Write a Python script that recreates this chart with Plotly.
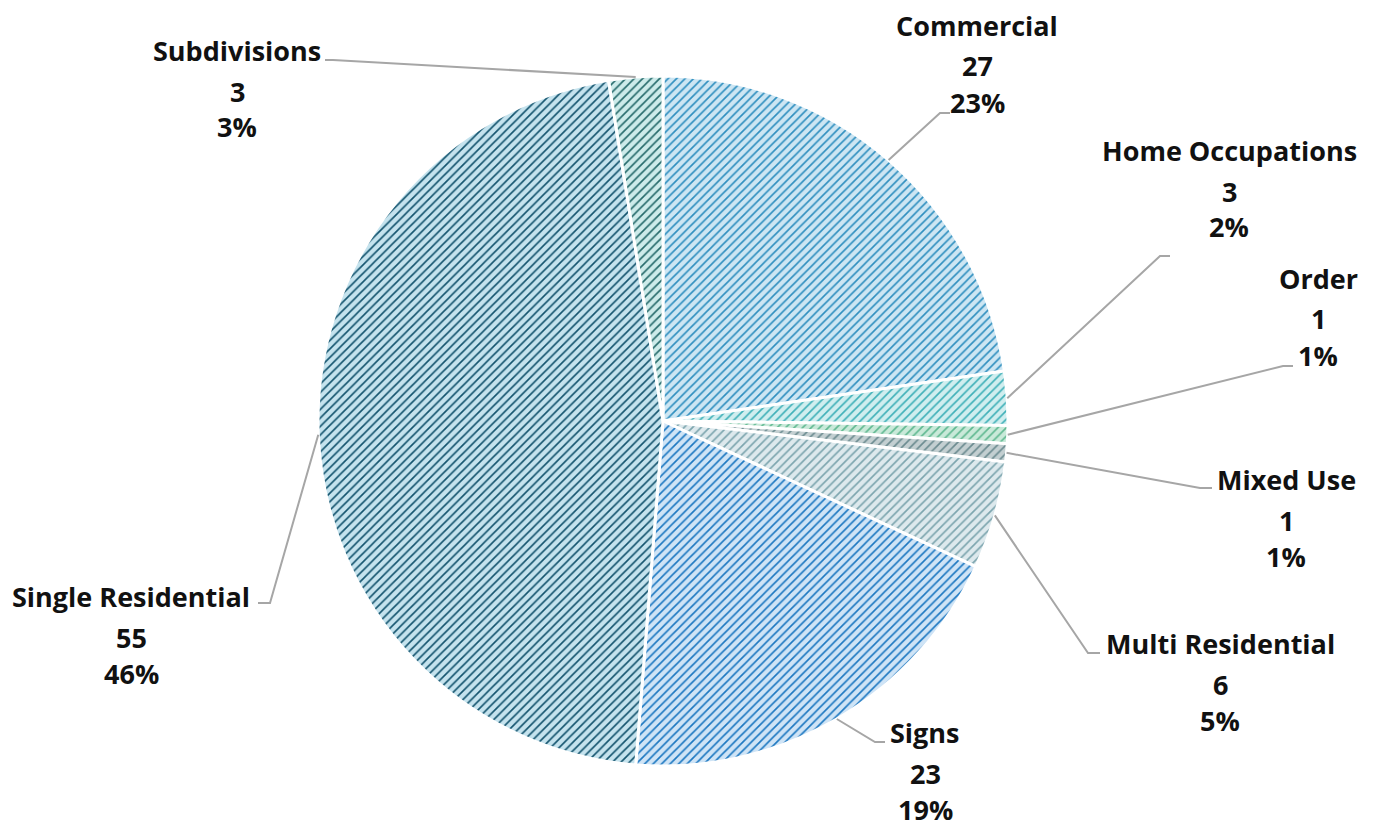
import math
import plotly.graph_objects as go

# ---- data ----
categories = ["Commercial", "Home Occupations", "Order", "Mixed Use",
              "Multi Residential", "Signs", "Single Residential", "Subdivisions"]
counts = [27, 3, 1, 1, 6, 23, 55, 3]
pct_labels = ["23%", "2%", "1%", "1%", "5%", "19%", "46%", "3%"]

# ---- styles ----
bg_colors = ["#cde6f3", "#d0eeef", "#c9e9d9", "#c3cfd1",
             "#dde9ed", "#cfe4f6", "#c5e3ee", "#cdebea"]
fg_colors = ["#2f8fbf", "#3fb0b8", "#5fb890", "#6b8b90",
             "#7ca5ae", "#1d78c1", "#14546e", "#276b6c"]

W, H = 1379, 827
CX, CY, R = 663, 421, 345  # pie centre / radius in pixels

# label placement (pixel centre of first text line) and leader elbow/end points
label_pos = [(977, 25), (1229, 150), (1318, 278), (1286, 479),
             (1220, 643), (925, 732), (131, 596), (237, 50)]
leader_elbow = [((940, 113), (950, 113)), ((1160, 256), (1170, 256)),
                ((1283, 366), (1293, 366)), ((1200, 488), (1212, 488)),
                ((1088, 653), (1100, 653)), ((875, 742), (885, 742)),
                ((270, 603), (258, 603)), ((333, 60), (325, 60))]

def px(x):
    return x / W

def py(y):
    return 1 - y / H

fig = go.Figure(go.Pie(
    labels=categories,
    values=counts,
    sort=False,
    direction="clockwise",
    rotation=0,
    textinfo="none",
    hoverinfo="label+value+percent",
    marker=dict(
        colors=bg_colors,
        line=dict(color="white", width=3),
        pattern=dict(shape="/", fgcolor=fg_colors, bgcolor=bg_colors,
                     size=6, solidity=0.27, fillmode="replace"),
    ),
    domain=dict(x=[px(CX - R), px(CX + R)], y=[py(CY + R), py(CY - R)]),
    showlegend=False,
))

total = sum(counts)
shapes = []
annotations = []
cum = 0
font = dict(family="Open Sans, sans-serif", size=27, color="#111111")
for i, (cat, v) in enumerate(zip(categories, counts)):
    mid = (cum + v / 2) / total * 2 * math.pi
    cum += v
    sx = CX + R * math.sin(mid)
    sy = CY - R * math.cos(mid)
    (ex, ey), (hx, hy) = leader_elbow[i]
    shapes.append(dict(
        type="path", xref="paper", yref="paper",
        path=f"M {px(sx)},{py(sy)} L {px(ex)},{py(ey)} L {px(hx)},{py(hy)}",
        line=dict(color="#a6a6a6", width=2),
    ))
    lx, ly = label_pos[i]
    for j, (txt, off) in enumerate([(cat, 0), (str(v), 41), (pct_labels[i], 77)]):
        annotations.append(dict(
            x=px(lx), y=py(ly + off), xref="paper", yref="paper",
            text=f"<b>{txt}</b>", showarrow=False, font=font,
            xanchor="center", yanchor="middle", borderpad=0,
        ))

fig.update_layout(
    width=W, height=H,
    margin=dict(l=0, r=0, t=0, b=0),
    paper_bgcolor="white", plot_bgcolor="white",
    shapes=shapes, annotations=annotations,
)

fig.write_html("out.html", config={"displayModeBar": False},
               post_script="document.body.style.margin='0';")
